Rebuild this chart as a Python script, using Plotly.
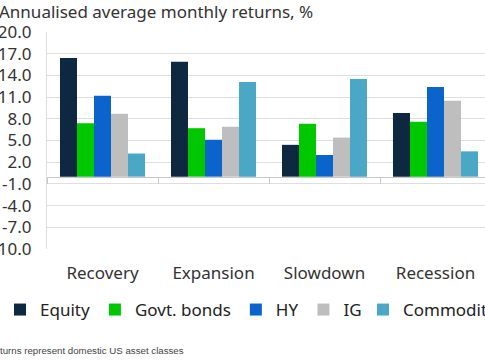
import plotly.graph_objects as go

categories = ["Recovery", "Expansion", "Slowdown", "Recession"]
series_names = ["Equity", "Govt. bonds", "HY", "IG", "Commodities"]
equity = [16.4, 15.9, 4.4, 8.8]
govt_bonds = [7.4, 6.7, 7.3, 7.6]
hy = [11.2, 5.1, 3.0, 12.4]
ig = [8.7, 6.9, 5.4, 10.5]
commodities = [3.2, 13.1, 13.5, 3.5]
y_ticks = [20, 17, 14, 11, 8, 5, 2, -1, -4, -7, -10]

colors = ["#0E2841", "#00C800", "#0A64CC", "#BEBEBE", "#4AA8C6"]
values = [equity, govt_bonds, hy, ig, commodities]
legend_refs = ["legend", "legend", "legend", "legend", "legend2"]

FONT = "Noto Sans"
fig = go.Figure()
for name, vals, c, lg in zip(series_names, values, colors, legend_refs):
    fig.add_trace(go.Bar(name=name, x=categories, y=vals, marker_color=c,
                         marker_line_width=0, legend=lg))

legend_common = dict(orientation="h", xref="container", xanchor="left",
                     y=50 / 360, yref="container", yanchor="middle",
                     font=dict(size=17, color="#222222", family=FONT),
                     traceorder="normal", bgcolor="rgba(0,0,0,0)")

fig.update_layout(
    width=485, height=360,
    margin=dict(l=47, r=0, t=32, b=111),
    paper_bgcolor="white", plot_bgcolor="white",
    barmode="group", bargap=0.234, bargroupgap=0,
    font=dict(family=FONT, color="#333333", size=17),
    showlegend=True,
    legend=dict(x=-11 / 485, **legend_common),
    legend2=dict(x=363 / 485, **legend_common),
    xaxis=dict(range=[-0.5, 3.446], anchor="free", position=1/3,
               automargin=False,
               showline=True, linecolor="#C8C8C8", linewidth=1,
               ticks="outside", tickson="boundaries", ticklen=6,
               tickcolor="#C8C8C8", showgrid=False,
               ticklabelstandoff=81, tickfont=dict(size=17, color="#333333")),
    yaxis=dict(range=[-10, 20], tickvals=y_ticks, automargin=False,
               ticktext=[f"{v:.1f}" for v in y_ticks],
               showgrid=True, gridcolor="#DEDEDE", gridwidth=1,
               zeroline=False, showline=True, linecolor="#DEDEDE",
               ticks="", ticklabelstandoff=11,
               tickfont=dict(size=17, color="#333333")),
)

fig.add_annotation(text="Annualised average monthly returns, %", xref="paper",
                   yref="paper", x=0, xshift=-50, y=1, yshift=34, xanchor="left",
                   yanchor="top", showarrow=False,
                   font=dict(size=17, color="#333333", family=FONT))
fig.add_annotation(text="turns represent domestic US asset classes", xref="paper",
                   yref="paper", x=0, xshift=-49, y=0, yshift=-101, xanchor="left",
                   yanchor="middle", showarrow=False,
                   font=dict(size=9.7, color="#444444", family="Liberation Sans"))

fig.write_html("out.html", config={"displayModeBar": False},
               post_script="document.body.style.margin='0';document.body.style.overflow='hidden';")
